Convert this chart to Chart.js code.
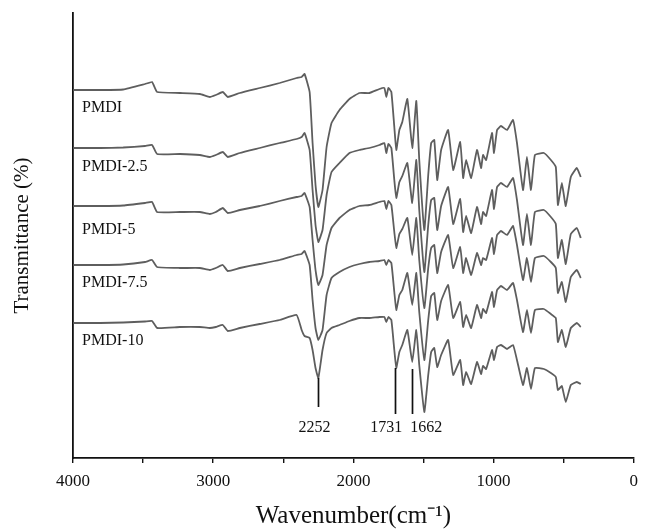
<!DOCTYPE html>
<html>
<head>
<meta charset="utf-8">
<script src="https://cdn.jsdelivr.net/npm/chart.js@4.4.0/dist/chart.umd.min.js"></script>
<style>
  html, body { margin: 0; padding: 0; background: #fff; }
  #wrap { width: 646px; height: 531px; position: relative; }
</style>
</head>
<body>
<div id="wrap"><canvas id="ftir"></canvas></div>
<script>
// wavenumber (cm-1), shared by all five spectra
const wavenumbers = [3998, 3806, 3642, 3486, 3436, 3400, 3237, 3095, 3024, 2981, 2931, 2896, 2810, 2668, 2526, 2405,
  2369, 2348, 2312, 2291, 2270, 2250, 2220, 2191, 2156, 2099, 2028, 1957, 1886, 1814, 1779, 1765, 1750, 1729,
  1708, 1694, 1672, 1651, 1615, 1580, 1551, 1530, 1494, 1466, 1445, 1423, 1402, 1374, 1324, 1288, 1238, 1217,
  1196, 1160, 1118, 1089, 1075, 1053, 1011, 997, 975, 947, 904, 861, 833, 790, 762, 733, 705, 641, 591, 556,
  541, 513, 485, 449, 406, 378];

// transmittance, arbitrary units (stacked traces)
const pmdi = [368, 368, 368.5, 374, 376, 366, 365, 364, 361, 363, 366, 361, 365, 370, 375, 380,
  381, 384, 366, 315, 273, 251, 268, 311, 335, 348, 359, 365, 365, 369, 370, 361, 370, 366,
  331, 308, 328, 336, 359, 310, 357, 298, 228, 283, 315, 318, 278, 308, 328, 288, 316, 280,
  298, 280, 308, 290, 303, 298, 325, 305, 328, 332, 328, 338, 315, 268, 301, 268, 303, 305, 298, 291,
  253, 275, 252, 281, 290, 281];
const pmdi25 = [310, 310, 310.5, 312, 313, 304, 304, 303, 301, 303, 306, 301, 305, 310, 315, 319,
  321, 325, 308, 268, 233, 216, 228, 263, 286, 295, 305, 308, 310, 313, 315, 305, 314, 310,
  278, 260, 276, 282, 295, 255, 298, 248, 186, 233, 258, 260, 228, 252, 271, 234, 259, 226,
  242, 225, 251, 234, 246, 242, 268, 249, 271, 275, 271, 280, 258, 213, 244, 213, 246, 248, 241, 234,
  200, 218, 194, 224, 230, 220];
const pmdi5 = [252, 252, 252.5, 255, 256, 246, 246, 246, 244, 246, 250, 245, 248, 252, 257, 261,
  262, 265, 251, 218, 188, 173, 183, 213, 230, 240, 248, 252, 253, 256, 257, 249, 257, 253,
  226, 210, 224, 229, 240, 203, 240, 198, 150, 190, 210, 213, 185, 206, 223, 190, 211, 185,
  200, 183, 205, 193, 200, 198, 220, 204, 223, 227, 223, 232, 213, 178, 200, 176, 200, 202, 196, 190,
  165, 176, 156, 181, 188, 180];
const pmdi75 = [193, 193, 193.5, 196, 198, 191, 190, 190, 188, 190, 193, 187, 190, 194, 198, 203,
  204, 207, 193, 158, 130, 118, 128, 163, 180, 186, 191, 194, 196, 197, 198, 193, 198, 195,
  166, 148, 163, 168, 185, 153, 185, 146, 98, 138, 162, 165, 138, 157, 173, 140, 156, 131,
  143, 130, 153, 140, 149, 145, 166, 151, 168, 172, 168, 175, 158, 126, 148, 125, 148, 149, 144, 140,
  116, 128, 111, 130, 135, 131];
const pmdi10 = [135, 135, 135.5, 136.5, 137, 130, 131, 131, 130, 131, 133, 127, 130, 134, 138, 143,
  128, 122, 120, 108, 90, 80, 108, 125, 130, 133, 137, 140, 140, 141, 141, 136, 141, 138,
  108, 90, 106, 113, 128, 96, 128, 93, 46, 83, 106, 110, 91, 103, 118, 83, 98, 73,
  86, 74, 96, 84, 92, 89, 108, 98, 111, 113, 109, 113, 98, 73, 90, 69, 90, 89, 85, 81,
  68, 72, 56, 73, 76, 74];

const seriesNames = ['PMDI', 'PMDI-2.5', 'PMDI-5', 'PMDI-7.5', 'PMDI-10'];
const labelWn = 3935;
const labelLevels = [350, 291, 228, 175, 117];

const peakNames = ['2252', '1731', '1662'];
const peakLineX = [2250, 1701, 1580];
const peakLineTop = [80, 90, 89];
const peakLineBottom = [51, 44, 44];
const peakTextX = [2277, 1765, 1480];
const peakTextY = 30;

const labelledTicks = [4000, 3000, 2000, 1000, 0];

const serif = '"Liberation Serif", "Times New Roman", serif';
const spectra = [pmdi, pmdi25, pmdi5, pmdi75, pmdi10];

const annotations = {
  id: 'annotations',
  afterDatasetsDraw(chart) {
    const ctx = chart.ctx;
    const x = chart.scales.x;
    const y = chart.scales.y;
    ctx.save();
    ctx.fillStyle = '#111';
    ctx.font = '16px ' + serif;
    ctx.textBaseline = 'middle';
    ctx.textAlign = 'left';
    seriesNames.forEach(function(name, i) {
      ctx.fillText(name, x.getPixelForValue(labelWn), y.getPixelForValue(labelLevels[i]));
    });

    ctx.strokeStyle = '#111';
    ctx.lineWidth = 1.7;
    peakNames.forEach(function(name, i) {
      var px = Math.round(x.getPixelForValue(peakLineX[i])) + 0.5;
      ctx.beginPath();
      ctx.moveTo(px, y.getPixelForValue(peakLineTop[i]));
      ctx.lineTo(px, y.getPixelForValue(peakLineBottom[i]));
      ctx.stroke();
    });

    ctx.textAlign = 'center';
    peakNames.forEach(function(name, i) {
      ctx.fillText(name, x.getPixelForValue(peakTextX[i]), y.getPixelForValue(peakTextY));
    });
    ctx.restore();
  }
};

new Chart(document.getElementById('ftir'), {
  type: 'line',
  data: {
    datasets: spectra.map(function(values, i) {
      return {
        label:       seriesNames[i],
        data:        values.map(function(v, j) { return {x: wavenumbers[j], y: v}; }),
        borderColor: '#5e5e5e',
        borderWidth: 1.8,
        pointRadius: 0,
        tension:     0.12,
        borderJoinStyle: 'round',
        fill:        false
      };
    })
  },
  options: {
    responsive: true,
    maintainAspectRatio: false,
    animation: false,
    layout: { padding: { left: 0, right: 9, top: 13, bottom: 0 } },
    plugins: {
      legend:  { display: false },
      tooltip: { enabled: false }
    },
    scales: {
      x: {
        type: 'linear',
        min: 0,
        max: 4000,
        reverse: true,
        afterFit: function(axis) { axis.height = 73; },
        grid:   { display: true, drawOnChartArea: false, drawTicks: true, tickLength: 5, color: '#111', lineWidth: 1.4 },
        border: { display: true, color: '#111', width: 1.8 },
        ticks: {
          stepSize: 500,
          autoSkip: false,
          maxRotation: 0,
          padding: 8,
          color: '#111',
          font: { family: serif, size: 17 },
          callback: function(v) { return labelledTicks.indexOf(v) >= 0 ? String(v) : ''; }
        },
        title: {
          display: true,
          text: 'Wavenumber(cm\u207B\u00B9)',
          color: '#111',
          font: { family: serif, size: 25 },
          padding: { top: 0, bottom: 0 }
        }
      },
      y: {
        min: 0,
        max: 445,
        afterFit: function(axis) { axis.width = 73; },
        grid:   { display: true, drawOnChartArea: false, drawTicks: false },
        border: { display: true, color: '#111', width: 1.8 },
        ticks:  { display: false },
        title: {
          display: true,
          text: 'Transmittance (%)',
          color: '#111',
          font: { family: serif, size: 21 },
          padding: { top: 10, bottom: 0 }
        }
      }
    }
  },
  plugins: [annotations]
});
</script>
</body>
</html>
